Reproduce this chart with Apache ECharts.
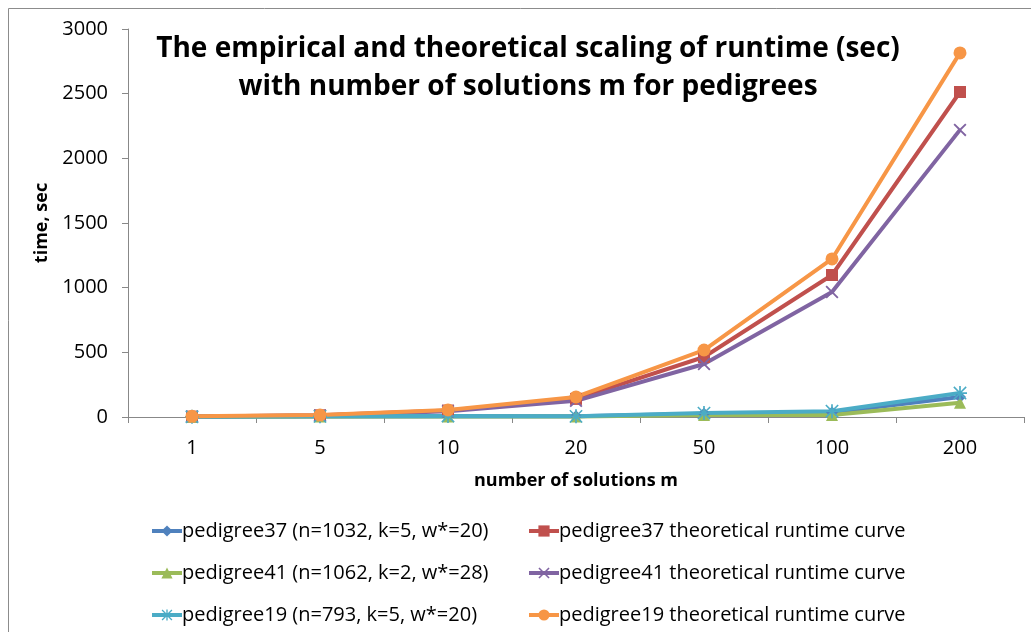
<!DOCTYPE html>
<html>
<head>
<meta charset="utf-8">
<script src="https://cdn.jsdelivr.net/npm/echarts@6/dist/echarts.min.js"></script>
<style>
  html, body { margin: 0; padding: 0; background: #fff; }
  #chart { width: 1031px; height: 632px; }
</style>
</head>
<body>
<div id="chart"></div>
<script>
const categories = ['1', '5', '10', '20', '50', '100', '200'];
const ped37 = [2, 4, 6, 5, 25, 35, 155];
const ped37Theory = [3, 13, 50, 140, 464, 1098, 2513];
const ped41 = [1, 3, 4, 3, 15, 15, 110];
const ped41Theory = [3, 12, 45, 125, 410, 967, 2220];
const ped19 = [2, 5, 8, 5, 30, 45, 185];
const ped19Theory = [5, 15, 55, 155, 518, 1222, 2815];

const font = '"Open Sans", "Liberation Sans", sans-serif';
const xPath = 'path://M1,0 L5,4 L9,0 L10,1 L6,5 L10,9 L9,10 L5,6 L1,10 L0,9 L4,5 L0,1 Z';
const starPath = 'path://M4.4,0 L5.6,0 L5.6,4.4 L10,4.4 L10,5.6 L5.6,5.6 L5.6,10 L4.4,10 L4.4,5.6 L0,5.6 L0,4.4 L4.4,4.4 Z M1,0.2 L5,4.2 L9,0.2 L9.8,1 L5.8,5 L9.8,9 L9,9.8 L5,5.8 L1,9.8 L0.2,9 L4.2,5 L0.2,1 Z';

function line(name, data, color, symbol, size) {
  return {
    name, data, type: 'line', symbol, symbolSize: size,
    lineStyle: { width: 4, color },
    itemStyle: { color },
    emphasis: { disabled: true }
  };
}

const legendBase = {
  orient: 'vertical', top: 521, padding: 0, itemGap: 22, itemWidth: 30, itemHeight: 14,
  lineStyle: { width: 4 },
  textStyle: { fontSize: 20, color: '#000', padding: [0, 0, 0, -5], fontFamily: font }
};

const chart = echarts.init(document.getElementById('chart'));
chart.setOption({
  animation: false,
  textStyle: { fontFamily: font },
  title: {
    text: 'The empirical and theoretical scaling of runtime (sec)\nwith number of solutions m for pedigrees',
    left: 523, top: 25, textAlign: 'center',
    textStyle: { fontSize: 28, fontWeight: 'bold', color: '#000', lineHeight: 38, fontFamily: font }
  },
  graphic: [{
    type: 'rect', shape: { x: 8.5, y: 8.5, width: 1100, height: 700 },
    style: { fill: 'none', stroke: '#8c8c8c', lineWidth: 1 }, silent: true
  }],
  grid: { left: 128, right: 7, top: 29, bottom: 215 },
  xAxis: {
    type: 'category', data: categories, boundaryGap: true,
    name: 'number of solutions m', nameLocation: 'middle', nameGap: 55,
    nameTextStyle: { fontSize: 18, fontWeight: 'bold', color: '#000' },
    axisLine: { lineStyle: { color: '#888' } },
    axisTick: { show: true, length: 6, lineStyle: { color: '#888' } },
    axisLabel: { fontSize: 20, color: '#000', margin: 21 }
  },
  yAxis: {
    type: 'value', min: 0, max: 3000, interval: 500,
    name: 'time, sec', nameLocation: 'middle', nameGap: 73,
    nameTextStyle: { fontSize: 18, fontWeight: 'bold', color: '#000' },
    axisLine: { show: true, lineStyle: { color: '#888' } },
    axisTick: { show: true, length: 6, lineStyle: { color: '#888' } },
    splitLine: { show: false },
    axisLabel: { fontSize: 20, color: '#000', margin: 20, formatter: v => String(v) }
  },
  legend: [Object.assign({}, legendBase, {
    left: 150,
    data: ['pedigree37 (n=1032, k=5, w*=20)', 'pedigree41 (n=1062, k=2, w*=28)', 'pedigree19 (n=793, k=5, w*=20)']
  }), Object.assign({}, legendBase, {
    left: 527,
    data: ['pedigree37 theoretical runtime curve', 'pedigree41 theoretical runtime curve', 'pedigree19 theoretical runtime curve']
  })],
  series: [
    line('pedigree37 (n=1032, k=5, w*=20)', ped37, '#4F81BD', 'diamond', 12),
    line('pedigree37 theoretical runtime curve', ped37Theory, '#C0504D', 'rect', 12),
    line('pedigree41 (n=1062, k=2, w*=28)', ped41, '#9BBB59', 'triangle', 12),
    line('pedigree41 theoretical runtime curve', ped41Theory, '#8064A2', xPath, 13),
    line('pedigree19 (n=793, k=5, w*=20)', ped19, '#4BACC6', starPath, 14),
    line('pedigree19 theoretical runtime curve', ped19Theory, '#F79646', 'circle', 13)
  ]
});
</script>
</body>
</html>
